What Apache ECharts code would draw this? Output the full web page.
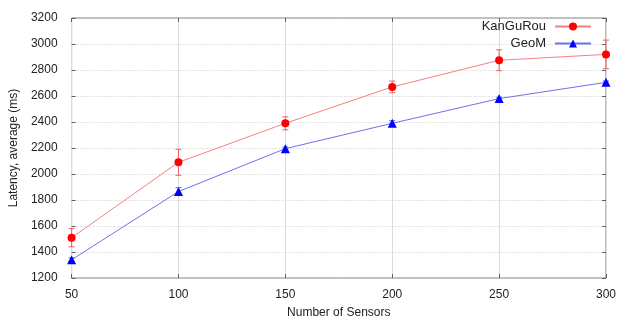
<!DOCTYPE html>
<html>
<head>
<meta charset="utf-8">
<script src="https://cdn.jsdelivr.net/npm/echarts@6/dist/echarts.min.js"></script>
<style>
  html, body { margin: 0; padding: 0; background: #fff; }
  #chart { width: 619px; height: 324px; }
</style>
</head>
<body>
<div id="chart"></div>
<script>
// data
const sensors = [50, 100, 150, 200, 250, 300];
const kanguMean = [1510, 2090, 2390, 2670, 2875, 2920];
const kanguErr = [70, 100, 50, 45, 80, 110];
const geomMean = [1340, 1865, 2195, 2390, 2580, 2705];
const geomErr = [15, 30, 12, 20, 10, 10];

const font = 'Liberation Sans';

function errorSeries(name, mean, err, color) {
  return {
    type: 'custom',
    name: name + ' err',
    z: 1,
    silent: true,
    data: sensors.map((x, i) => [x, mean[i] - err[i], mean[i] + err[i]]),
    renderItem: function (params, api) {
      const lo = api.coord([api.value(0), api.value(1)]);
      const hi = api.coord([api.value(0), api.value(2)]);
      const w = 3;
      const style = { stroke: color, lineWidth: 1 };
      return {
        type: 'group',
        children: [
          { type: 'line', shape: { x1: lo[0], y1: lo[1], x2: hi[0], y2: hi[1] }, style: style },
          { type: 'line', shape: { x1: lo[0] - w, y1: lo[1], x2: lo[0] + w, y2: lo[1] }, style: style },
          { type: 'line', shape: { x1: hi[0] - w, y1: hi[1], x2: hi[0] + w, y2: hi[1] }, style: style }
        ]
      };
    }
  };
}

const chart = echarts.init(document.getElementById('chart'));

chart.setOption({
  animation: false,
  textStyle: { fontFamily: font },
  grid: {
    left: 70, right: 13, top: 18, bottom: 43,
    show: true, borderColor: '#808080', borderWidth: 1
  },
  legend: {
    right: 22, top: 15,
    orient: 'vertical',
    align: 'right',
    itemGap: 4,
    itemWidth: 36,
    itemHeight: 10,
    textStyle: { fontFamily: font, fontSize: 13, color: '#222', padding: [0, 4, 0, 0] },
    data: ['KanGuRou', 'GeoM']
  },
  xAxis: [{
    type: 'value',
    min: 50, max: 300, interval: 50,
    name: 'Number of Sensors',
    nameLocation: 'middle',
    nameGap: 29,
    nameTextStyle: { fontSize: 12, color: '#222' },
    axisLine: { show: false },
    axisTick: { show: true, inside: true, length: 4, lineStyle: { color: '#606060' } },
    axisLabel: { fontSize: 12, color: '#222', margin: 11 },
    splitLine: { show: true, lineStyle: { color: '#dcdcdc', width: 1 } }
  }, {
    type: 'value',
    position: 'top',
    min: 50, max: 300, interval: 50,
    axisLine: { show: false },
    axisTick: { show: true, inside: true, length: 4, lineStyle: { color: '#606060' } },
    axisLabel: { show: false },
    splitLine: { show: false }
  }],
  yAxis: [{
    type: 'value',
    min: 1200, max: 3200, interval: 200,
    name: 'Latency, average (ms)',
    nameLocation: 'middle',
    nameGap: 50,
    nameRotate: 90,
    nameTextStyle: { fontSize: 12, color: '#222' },
    axisLine: { show: false },
    axisTick: { show: true, inside: true, length: 4, lineStyle: { color: '#606060' } },
    axisLabel: { fontSize: 12, color: '#222', margin: 14, formatter: v => String(v) },
    splitLine: { show: true, lineStyle: { color: '#c8c8c8', width: 1, type: [1, 2] } }
  }, {
    type: 'value',
    position: 'right',
    min: 1200, max: 3200, interval: 200,
    axisLine: { show: false },
    axisTick: { show: true, inside: true, length: 4, lineStyle: { color: '#606060' } },
    axisLabel: { show: false },
    splitLine: { show: false }
  }],
  series: [
    errorSeries('KanGuRou', kanguMean, kanguErr, '#f06060'),
    errorSeries('GeoM', geomMean, geomErr, '#6060f0'),
    {
      name: 'KanGuRou',
      type: 'line',
      z: 3,
      data: sensors.map((x, i) => [x, kanguMean[i]]),
      symbol: 'circle',
      symbolSize: 8,
      lineStyle: { color: '#f28080', width: 1 },
      itemStyle: { color: '#ff0000' }
    },
    {
      name: 'GeoM',
      type: 'line',
      z: 3,
      data: sensors.map((x, i) => [x, geomMean[i]]),
      symbol: 'triangle',
      symbolSize: 9,
      lineStyle: { color: '#7070ee', width: 1 },
      itemStyle: { color: '#0000ff' }
    }
  ]
});
</script>
</body>
</html>
